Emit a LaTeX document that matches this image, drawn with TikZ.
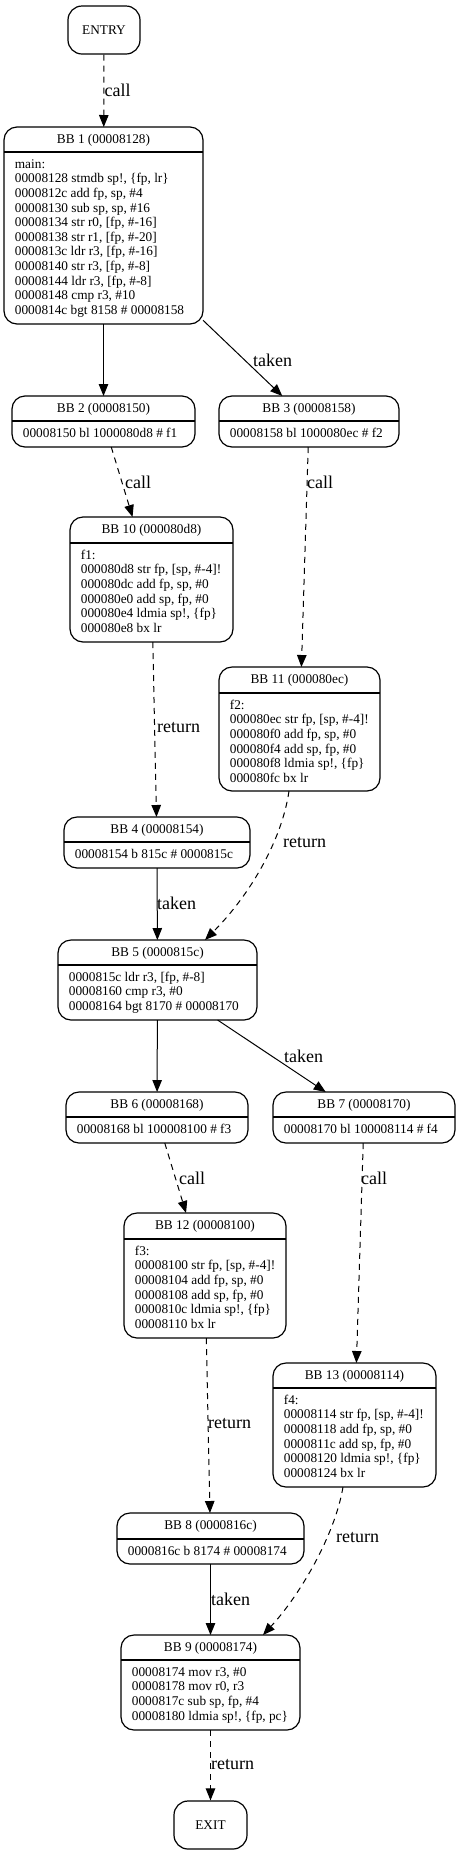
\documentclass[tikz,border=0pt]{standalone}
\usepackage{fontspec}
\setmainfont{Liberation Serif}
\usetikzlibrary{arrows.meta}
\tikzset{
  bbshape/.style={draw, line width=1.2pt, rounded corners=13pt, inner sep=0pt, outer sep=0pt},
  boxline/.style={line width=1.2pt},
  hdr/.style={inner sep=0pt, font=\fontsize{13.3}{14.6}\selectfont},
  bodytxt/.style={inner sep=0pt, anchor=north west, align=left, font=\fontsize{13.3}{14.6}\selectfont},
  termnode/.style={draw, line width=1.2pt, rounded corners=14pt, inner sep=0pt, font=\fontsize{13.3}{14.6}\selectfont},
  elbl/.style={anchor=west, inner sep=0pt, font=\fontsize{18}{20}\selectfont},
  flow/.style={line width=1pt, -{Triangle[length=12pt,width=9.5pt]}},
  ret/.style={flow, dash pattern=on 6pt off 5pt},
}
\newcommand\bbox[8]{%
  \node[bbshape, minimum width={#3-#2}, minimum height={#5-#4}] (#1) at ({(#2+#3)/2},{(#4+#5)/2}) {};
  \draw[boxline] (#1.west |- 0,#6) -- (#1.east |- 0,#6);
  \node[hdr] (#1h) at ({(#2+#3)/2},{(#4+#6)/2+0.5}) {#7};
  \node[bodytxt] (#1b) at ({#2+10.7},{#6+5.9}) {\strut #8};
}
\begin{document}
\begin{tikzpicture}[x=1pt, y=-1pt]
\useasboundingbox (0,0) rectangle (460,1856);

\node[termnode, minimum width=72pt, minimum height=48pt] (entry) at (104,30) {ENTRY};
\node[termnode, minimum width=73pt, minimum height=48pt] (exit) at (210.5,1825) {EXIT};

\bbox{bb1}{4}{203}{127}{324}{152}{BB 1 (00008128)}{main:\\00008128 stmdb sp!, \{fp, lr\}\\0000812c add fp, sp, \#4\\00008130 sub sp, sp, \#16\\00008134 str r0, [fp, \#-16]\\00008138 str r1, [fp, \#-20]\\0000813c ldr r3, [fp, \#-16]\\00008140 str r3, [fp, \#-8]\\00008144 ldr r3, [fp, \#-8]\\00008148 cmp r3, \#10\\0000814c bgt 8158 \# 00008158}
\bbox{bb2}{12}{195}{396}{447}{421}{BB 2 (00008150)}{00008150 bl 1000080d8 \# f1}
\bbox{bb3}{219}{399}{396}{447}{421}{BB 3 (00008158)}{00008158 bl 1000080ec \# f2}
\bbox{bb10}{70}{233}{517}{642}{543}{BB 10 (000080d8)}{f1:\\000080d8 str fp, [sp, \#-4]!\\000080dc add fp, sp, \#0\\000080e0 add sp, fp, \#0\\000080e4 ldmia sp!, \{fp\}\\000080e8 bx lr}
\bbox{bb11}{219}{380}{667}{791}{693}{BB 11 (000080ec)}{f2:\\000080ec str fp, [sp, \#-4]!\\000080f0 add fp, sp, \#0\\000080f4 add sp, fp, \#0\\000080f8 ldmia sp!, \{fp\}\\000080fc bx lr}
\bbox{bb4}{64}{250}{817}{868}{842}{BB 4 (00008154)}{00008154 b 815c \# 0000815c}
\bbox{bb5}{58}{257}{940}{1020}{965}{BB 5 (0000815c)}{0000815c ldr r3, [fp, \#-8]\\00008160 cmp r3, \#0\\00008164 bgt 8170 \# 00008170}
\bbox{bb6}{66}{248}{1092}{1143}{1117}{BB 6 (00008168)}{00008168 bl 100008100 \# f3}
\bbox{bb7}{273}{455}{1092}{1143}{1117}{BB 7 (00008170)}{00008170 bl 100008114 \# f4}
\bbox{bb12}{124}{286}{1213}{1338}{1239}{BB 12 (00008100)}{f3:\\00008100 str fp, [sp, \#-4]!\\00008104 add fp, sp, \#0\\00008108 add sp, fp, \#0\\0000810c ldmia sp!, \{fp\}\\00008110 bx lr}
\bbox{bb13}{273}{436}{1363}{1487}{1388}{BB 13 (00008114)}{f4:\\00008114 str fp, [sp, \#-4]!\\00008118 add fp, sp, \#0\\0000811c add sp, fp, \#0\\00008120 ldmia sp!, \{fp\}\\00008124 bx lr}
\bbox{bb8}{117}{304}{1513}{1564}{1539}{BB 8 (0000816c)}{0000816c b 8174 \# 00008174}
\bbox{bb9}{121}{300}{1635}{1730}{1660}{BB 9 (00008174)}{00008174 mov r3, \#0\\00008178 mov r0, r3\\0000817c sub sp, fp, \#4\\00008180 ldmia sp!, \{fp, pc\}}

% connectors
\draw[ret] (entry) -- (bb1);
\draw[flow] (bb1) -- (bb2);
\draw[flow] (bb1) -- (bb3);
\draw[ret] (bb2) -- (bb10);
\draw[ret] (bb3) -- (bb11);
\draw[ret] (bb10) -- (bb4);
\draw[ret] ([xshift=-10.5pt]bb11.south) .. controls (282,840) and (250,895) .. ([xshift=47.5pt]bb5.north);
\draw[flow] (bb4) -- (bb5);
\draw[flow] (bb5) -- (bb6);
\draw[flow] (bb5) -- (bb7);
\draw[ret] (bb6) -- (bb12);
\draw[ret] (bb7) -- (bb13);
\draw[ret] (bb12) -- (bb8);
\draw[ret] ([xshift=-11.5pt]bb13.south) .. controls (335,1535) and (300,1595) .. ([xshift=52.5pt]bb9.north);
\draw[flow] (bb8) -- (bb9);
\draw[ret] (bb9) -- (exit);

% edge labels
\node[elbl] (l1) at (104.5,90) {call};
\node[elbl] (l2) at (253,360) {taken};
\node[elbl] (l3) at (125,482) {call};
\node[elbl] (l4) at (307,482) {call};
\node[elbl] (l5) at (157,728) {return};
\node[elbl] (l6) at (283,843) {return};
\node[elbl] (l7) at (157,903) {taken};
\node[elbl] (l8) at (284,1056) {taken};
\node[elbl] (l9) at (179,1178) {call};
\node[elbl] (l10) at (361,1178) {call};
\node[elbl] (l11) at (208,1424) {return};
\node[elbl] (l12) at (336,1538) {return};
\node[elbl] (l13) at (211,1599) {taken};
\node[elbl] (l14) at (211,1764) {return};
\end{tikzpicture}
\end{document}
